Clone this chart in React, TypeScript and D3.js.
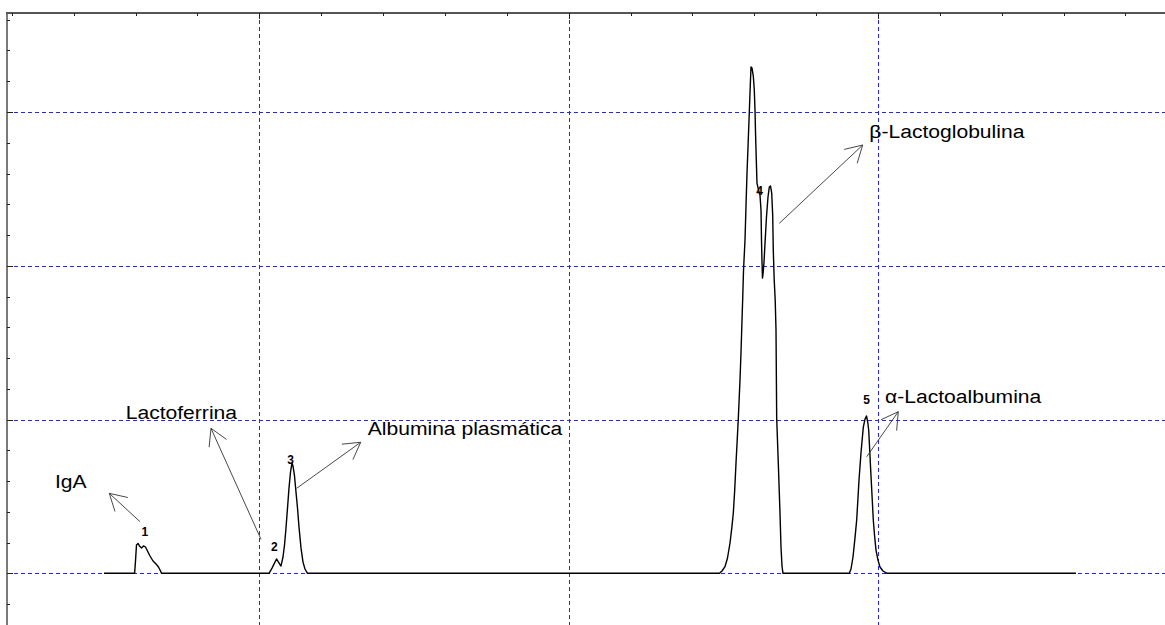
import React from "react";
import * as d3 from "d3";

// Chromatogram trace (time in min-like units, signal in arbitrary units)
const traceTime = [
  4.98,
  5.97, 6.0, 6.03, 6.079, 6.127, 6.192, 6.257, 6.321, 6.386, 6.467, 6.564, 6.661, 6.742, 6.807, 6.839,
  10.314, 10.411, 10.556, 10.621, 10.701, 10.766, 10.815, 10.863, 10.912, 10.96, 11.009, 11.057, 11.089,
  11.138, 11.186, 11.235, 11.283, 11.348, 11.413, 11.477, 11.558,
  24.876, 24.957, 25.054, 25.135, 25.216, 25.274, 25.323, 25.368, 25.41, 25.449, 25.485, 25.539, 25.572,
  25.594, 25.627, 25.653, 25.701, 25.734, 25.766, 25.804, 25.84, 25.872, 25.895, 25.927, 25.969, 26.001,
  26.024, 26.043, 26.066, 26.088, 26.137, 26.185, 26.218, 26.234, 26.25, 26.266, 26.289, 26.315, 26.353,
  26.395, 26.444, 26.486, 26.525, 26.564, 26.596, 26.615, 26.645, 26.677, 26.703, 26.725, 26.777, 26.832,
  26.864, 26.897, 26.929,
  29.072, 29.127, 29.192, 29.256, 29.311, 29.353, 29.386, 29.45, 29.525, 29.58, 29.628, 29.667, 29.699,
  29.732, 29.764, 29.806, 29.848, 29.893, 29.935, 30.0, 30.064, 30.161, 30.291,
  36.401,
];
const traceSignal = [
  0,
  0, 0.086, 0.184, 0.194, 0.178, 0.165, 0.178, 0.171, 0.145, 0.1125, 0.08, 0.06, 0.041, 0.015, 0,
  0, 0.034, 0.093, 0.073, 0.047, 0.106, 0.184, 0.295, 0.425, 0.555, 0.659, 0.717, 0.698,
  0.633, 0.529, 0.425, 0.301, 0.165, 0.073, 0.028, 0,
  0, 0.015, 0.043, 0.0995, 0.197, 0.295, 0.392, 0.542, 0.717, 0.867, 1.01, 1.257, 1.439,
  1.582, 1.79, 1.972, 2.167, 2.395, 2.603, 2.805, 3.0, 3.176, 3.293, 3.286, 3.234, 3.143,
  3.013, 2.85, 2.688, 2.538, 2.493, 2.46, 2.363, 2.167, 2.024, 1.92, 1.959, 2.024, 2.167,
  2.317, 2.447, 2.512, 2.519, 2.473, 2.33, 2.102, 1.907, 1.777, 1.582, 1.01, 0.717, 0.392,
  0.171, 0.047, 0,
  0, 0.028, 0.106, 0.23, 0.347, 0.49, 0.607, 0.782, 0.951, 1.003, 1.023, 0.984, 0.932,
  0.802, 0.672, 0.509, 0.347, 0.236, 0.151, 0.086, 0.041, 0.015, 0,
  0,
];

// Peak numbers
const peakNumbers = ["1", "2", "3", "4", "5"];
const peakNumTime = [6.3, 10.485, 11.009, 26.17, 29.63];
const peakNumSignal = [0.243, 0.145, 0.711, 2.46, 1.1];

// Compound annotations
const compoundNames = ["IgA", "Lactoferrina", "Albumina plasmática", "β-Lactoglobulina", "α-Lactoalbumina"];
const nameTime = [3.396, 5.681, 13.504, 29.719, 30.226];
const nameSignal = [0.555, 1.003, 0.899, 2.834, 1.106];
const arrowTailTime = [6.143, 10.055, 11.209, 26.809, 29.635];
const arrowTailSignal = [0.336, 0.221, 0.553, 2.276, 0.758];
const arrowTipTime = [5.151, 8.439, 13.278, 29.505, 30.656];
const arrowTipSignal = [0.52, 0.943, 0.852, 2.785, 1.051];

// Axis ticks
const xMajor = [10, 20, 30];
const xMinor = d3.range(2, 40, 2);
const yMajor = [0, 1, 2, 3];
const yMinor = d3.range(-0.2, 3.61, 0.2);

const W = 1165;
const H = 625;
const left = 7;
const top = 13;

const snap = (v: number) => Math.round(v) + 0.5;

export default function App() {
  const x = d3.scaleLinear().domain([10, 30]).range([259.3, 878]);
  const y = d3.scaleLinear().domain([0, 3]).range([573.3, 112]);

  const pts: [number, number][] = traceTime.map((t, i) => [t, traceSignal[i]]);
  const line = d3
    .line<[number, number]>()
    .x((d) => x(d[0]))
    .y((d) => y(d[1]));

  const gridColor = "#2424ff";

  const arrows = compoundNames.map((_, i) => {
    const x1 = x(arrowTailTime[i]);
    const y1 = y(arrowTailSignal[i]);
    const x2 = x(arrowTipTime[i]);
    const y2 = y(arrowTipSignal[i]);
    const ang = Math.atan2(y1 - y2, x1 - x2);
    const L = 19;
    const a = (30 * Math.PI) / 180;
    const b1 = [x2 + L * Math.cos(ang + a), y2 + L * Math.sin(ang + a)];
    const b2 = [x2 + L * Math.cos(ang - a), y2 + L * Math.sin(ang - a)];
    return { x1, y1, x2, y2, b1, b2 };
  });

  return (
    <svg
      width={W}
      height={H}
      style={{ position: "absolute", left: 0, top: 0, background: "#fff" }}
      fontFamily="'Liberation Sans', Arial, sans-serif"
    >
      <rect x={0} y={0} width={W} height={H} fill="#fff" />
      {/* grid */}
      {xMajor.map((v) => (
        <line
          key={"gx" + v}
          x1={snap(x(v))}
          x2={snap(x(v))}
          y1={top}
          y2={H}
          stroke={gridColor}
          strokeWidth={1}
          strokeDasharray="4,3"
        />
      ))}
      {yMajor.map((v) => (
        <line
          key={"gy" + v}
          x1={left}
          x2={W}
          y1={snap(y(v))}
          y2={snap(y(v))}
          stroke={gridColor}
          strokeWidth={1}
          strokeDasharray="4,3"
        />
      ))}
      {/* axes */}
      <line x1={left} x2={left} y1={top - 1} y2={H} stroke="#7a7a7a" strokeWidth={2} />
      <line x1={left - 1} x2={W} y1={top} y2={top} stroke="#555" strokeWidth={2} />
      {xMinor.map((v) => (
        <line
          key={"tx" + v}
          x1={snap(x(v))}
          x2={snap(x(v))}
          y1={top}
          y2={top + (xMajor.includes(v) ? 6 : 3)}
          stroke="#222"
          strokeWidth={1}
        />
      ))}
      {yMinor.map((v) => (
        <line
          key={"ty" + v.toFixed(2)}
          x1={left}
          x2={left + (yMajor.some((m) => Math.abs(m - v) < 1e-6) ? 6 : 3)}
          y1={snap(y(v))}
          y2={snap(y(v))}
          stroke="#222"
          strokeWidth={1}
        />
      ))}
      {/* trace */}
      <path d={line(pts) || ""} fill="none" stroke="#000" strokeWidth={1.4} strokeLinejoin="round" />
      {/* peak numbers */}
      {peakNumbers.map((p, i) => (
        <text
          key={"pn" + p}
          x={x(peakNumTime[i])}
          y={y(peakNumSignal[i])}
          textAnchor="middle"
          fontSize={12}
          fontWeight="bold"
          fill="#000"
        >
          {p}
        </text>
      ))}
      {/* arrows */}
      {arrows.map((a, i) => (
        <g key={"ar" + i} stroke="#333" strokeWidth={0.9} fill="none">
          <line x1={a.x1} y1={a.y1} x2={a.x2} y2={a.y2} />
          <line x1={a.x2} y1={a.y2} x2={a.b1[0]} y2={a.b1[1]} />
          <line x1={a.x2} y1={a.y2} x2={a.b2[0]} y2={a.b2[1]} />
        </g>
      ))}
      {/* names */}
      {compoundNames.map((n, i) => (
        <g key={"nm" + i} transform={`translate(${x(nameTime[i])},${y(nameSignal[i])}) scale(1.11,1)`}>
          <text x={0} y={0} fontSize={19} fill="#000">
            {n}
          </text>
        </g>
      ))}
    </svg>
  );
}
